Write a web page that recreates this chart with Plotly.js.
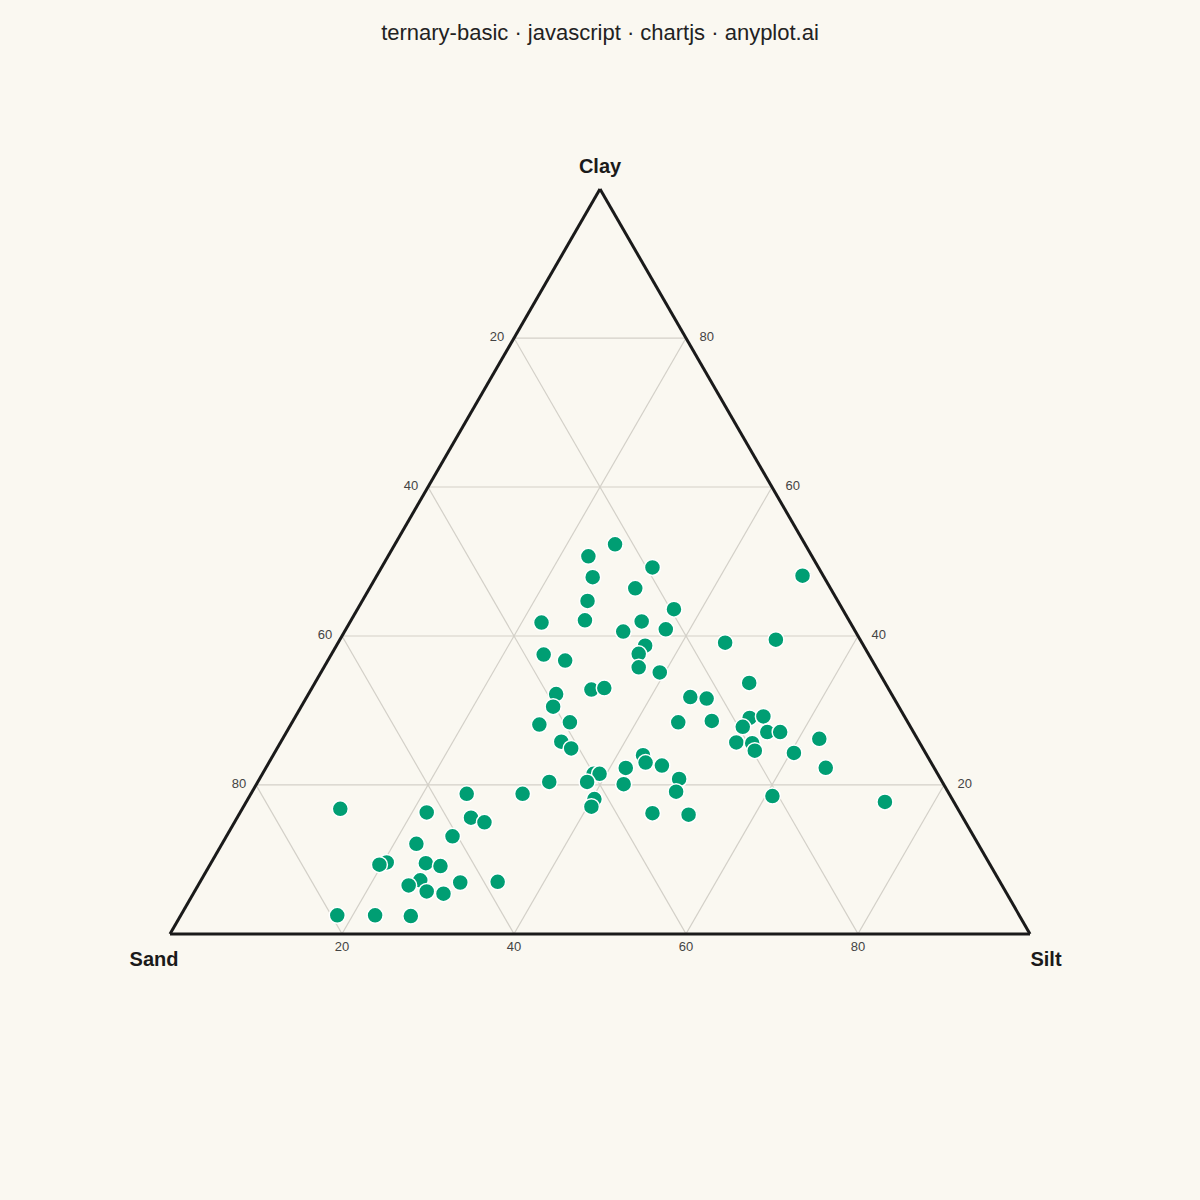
<!DOCTYPE html>
<html>
<head>
<meta charset="utf-8">
<script src="https://cdn.plot.ly/plotly-3.0.1.min.js"></script>
<style>
  html, body { margin: 0; padding: 0; background: #FAF8F1; }
  #chart { width: 1200px; height: 1200px; }
</style>
</head>
<body>
<div id="chart"></div>
<script>
// Soil samples (percent)
const sand = [71.8, 56.1, 49.6, 62.0, 57.2, 56.0, 60.6, 65.3, 70.0, 71.0,
              65.5, 64.0, 67.3, 69.0, 67.3, 65.5, 62.8, 58.4, 79.3, 74.9,
              70.8, 22.1, 26.0, 19.3, 26.9, 22.7, 29.1, 19.6, 30.7, 35.9,
              24.2, 27.0, 21.9, 25.4, 26.7, 37.8, 35.7, 27.6, 25.5, 34.6,
              33.0, 39.0, 23.6, 40.2, 21.8, 43.0, 39.3, 26.7, 22.7, 41.6,
              40.9, 33.0, 33.2, 31.5, 35.9, 40.0, 39.3, 41.3, 45.7, 37.2,
              30.4, 31.6, 41.6, 42.5, 35.8, 31.7, 2.4, 15.9, 9.8, 15.8,
              18.1, 16.4, 19.5, 17.0, 15.5, 21.3, 19.5, 19.7, 15.3, 11.4,
              12.6, 20.7, 8.0];
const silt = [11.4, 25.1, 31.6, 21.7, 27.2, 29.1, 26.3, 22.6, 20.4, 19.7,
              25.0, 26.9, 25.5, 24.5, 27.0, 29.1, 30.3, 34.6, 18.2, 22.6,
              26.8, 25.6, 23.3, 31.5, 25.2, 30.9, 26.2, 36.8, 27.2, 22.3,
              33.9, 32.4, 37.2, 35.9, 35.7, 24.7, 27.6, 36.6, 39.4, 32.6,
              34.0, 28.8, 44.6, 29.3, 46.6, 28.9, 32.3, 44.9, 48.7, 32.6,
              34.2, 43.0, 43.8, 45.9, 41.9, 38.5, 39.2, 38.3, 33.9, 42.7,
              48.8, 49.3, 40.3, 40.5, 48.0, 52.3, 49.5, 45.0, 50.7, 50.5,
              52.9, 54.4, 52.7, 55.9, 57.4, 53.0, 54.9, 55.7, 60.4, 62.4,
              65.1, 60.8, 74.2];
const clay = [16.8, 18.8, 18.8, 16.3, 15.6, 15.0, 13.1, 12.1, 9.6, 9.3,
              9.5, 9.1, 7.2, 6.5, 5.7, 5.4, 6.9, 7.0, 2.5, 2.5,
              2.4, 52.3, 50.7, 49.2, 47.9, 46.4, 44.7, 43.6, 42.1, 41.8,
              42.0, 40.6, 40.9, 38.7, 37.6, 37.5, 36.7, 35.8, 35.1, 32.8,
              33.0, 32.2, 31.8, 30.5, 31.6, 28.1, 28.4, 28.4, 28.6, 25.8,
              24.9, 24.0, 23.0, 22.6, 22.3, 21.5, 21.5, 20.4, 20.4, 20.1,
              20.8, 19.1, 18.1, 17.1, 16.2, 16.0, 48.1, 39.1, 39.5, 33.7,
              29.0, 29.2, 27.8, 27.1, 27.1, 25.7, 25.6, 24.6, 24.3, 26.2,
              22.3, 18.5, 17.7];

const tickValues = [20, 40, 60, 80];
const tickLabels = ['80', '60', '40', '20'];
const vertexNames = { a: 'Clay', b: 'Sand', c: 'Silt' };
const chartTitle = 'ternary-basic · javascript · chartjs · anyplot.ai';

const FONT = 'Liberation Sans, Arial, sans-serif';
const BG = '#FAF8F1';
const NBSP = '\u00A0';

function axisStyle(name, labels) {
  return {
    title: { text: name, font: { family: FONT, size: 20, color: '#1a1a1a', weight: 'bold' } },
    tickmode: 'array',
    tickvals: tickValues,
    ticktext: labels,
    ticks: '',
    tickfont: { family: FONT, size: 13, color: '#444444' },
    showgrid: true,
    gridcolor: '#d3d0c8',
    gridwidth: 1.2,
    showline: true,
    linecolor: '#1a1a1a',
    linewidth: 3,
    min: 0
  };
}

const trace = {
  type: 'scatterternary',
  mode: 'markers',
  a: clay,
  b: sand,
  c: silt,
  marker: {
    size: 16,
    color: '#009E73',
    line: { color: '#ffffff', width: 1.5 }
  },
  hovertemplate: 'Sand %{b}%<br>Silt %{c}%<br>Clay %{a}%<extra></extra>'
};

const layout = {
  width: 1200,
  height: 1200,
  paper_bgcolor: BG,
  plot_bgcolor: BG,
  showlegend: false,
  margin: { l: 170, r: 170, t: 150, b: 227 },
  title: {
    text: chartTitle,
    x: 0.5,
    xanchor: 'center',
    y: 1 - 32 / 1200,
    yanchor: 'middle',
    yref: 'container',
    font: { family: FONT, size: 22, color: '#222222' }
  },
  ternary: {
    sum: 100,
    bgcolor: BG,
    aaxis: axisStyle(vertexNames.a, tickLabels.map(t => t + NBSP + NBSP)),
    baxis: axisStyle(vertexNames.b, tickLabels),
    caxis: axisStyle(vertexNames.c, tickLabels.map(t => NBSP + NBSP + NBSP + t))
  }
};

Plotly.newPlot('chart', [trace], layout, { displayModeBar: false, staticPlot: true });
</script>
</body>
</html>
